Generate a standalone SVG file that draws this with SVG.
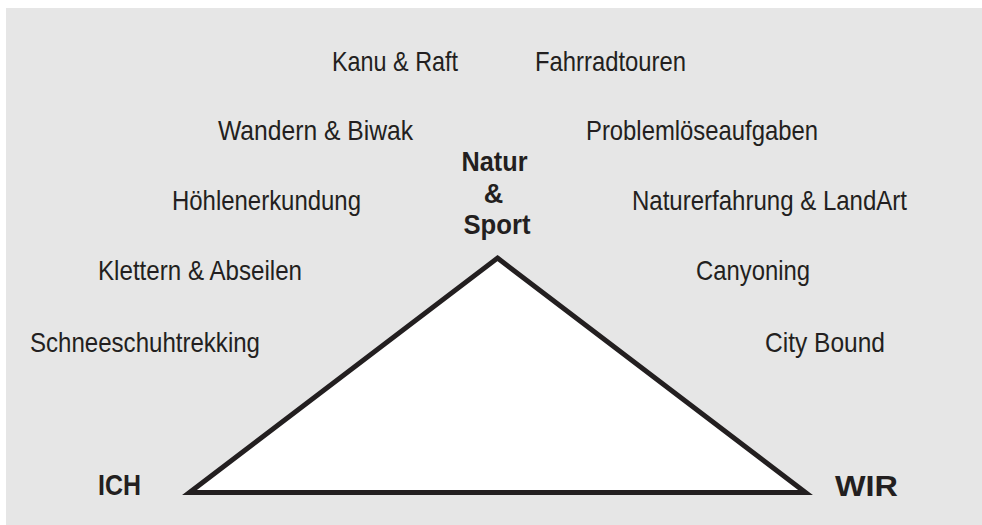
<svg xmlns="http://www.w3.org/2000/svg" width="982" height="525" viewBox="0 0 982 525">
<style>
.t{font-family:"Liberation Sans",Arial,sans-serif;font-size:28.5px;fill:#231f20}
.b{font-family:"Liberation Sans",Arial,sans-serif;font-size:27px;font-weight:bold;fill:#231f20}
</style>
<rect x="0" y="0" width="982" height="525" fill="#ffffff"/>
<rect x="6" y="8" width="976" height="517" fill="#e6e6e6"/>
<g id="connectors">
<polygon points="497.5,258.1 805.5,492.5 189.5,492.5" fill="#ffffff" stroke="#231f20" stroke-width="5" stroke-linejoin="miter"/>
</g>
<g id="natur-sport">
<text class="b" x="494.5" y="171" text-anchor="middle" textLength="66" lengthAdjust="spacingAndGlyphs">Natur</text>
<text class="b" x="493.5" y="203" text-anchor="middle">&amp;</text>
<text class="b" x="497" y="234" text-anchor="middle" textLength="67" lengthAdjust="spacingAndGlyphs">Sport</text>
</g>
<g id="ich"><text class="b" x="98" y="495" textLength="43" lengthAdjust="spacingAndGlyphs" style="font-size:29px">ICH</text></g>
<g id="wir"><text class="b" x="835" y="495.5" textLength="63" lengthAdjust="spacingAndGlyphs" style="font-size:29px">WIR</text></g>
<g id="kanu"><text class="t" x="332" y="71" textLength="126" lengthAdjust="spacingAndGlyphs">Kanu &amp; Raft</text></g>
<g id="fahrrad"><text class="t" x="535" y="71" textLength="151" lengthAdjust="spacingAndGlyphs">Fahrradtouren</text></g>
<g id="wandern"><text class="t" x="218" y="140" textLength="195" lengthAdjust="spacingAndGlyphs">Wandern &amp; Biwak</text></g>
<g id="problem"><text class="t" x="586" y="140" textLength="232" lengthAdjust="spacingAndGlyphs">Problemlöseaufgaben</text></g>
<g id="hoehlen"><text class="t" x="172" y="210" textLength="189" lengthAdjust="spacingAndGlyphs">Höhlenerkundung</text></g>
<g id="naturerfahrung"><text class="t" x="632" y="210" textLength="275" lengthAdjust="spacingAndGlyphs">Naturerfahrung &amp; LandArt</text></g>
<g id="klettern"><text class="t" x="98" y="280" textLength="204" lengthAdjust="spacingAndGlyphs">Klettern &amp; Abseilen</text></g>
<g id="canyoning"><text class="t" x="696" y="280" textLength="114" lengthAdjust="spacingAndGlyphs">Canyoning</text></g>
<g id="schnee"><text class="t" x="30" y="352" textLength="230" lengthAdjust="spacingAndGlyphs">Schneeschuhtrekking</text></g>
<g id="city"><text class="t" x="765" y="352" textLength="120" lengthAdjust="spacingAndGlyphs">City Bound</text></g>
</svg>
